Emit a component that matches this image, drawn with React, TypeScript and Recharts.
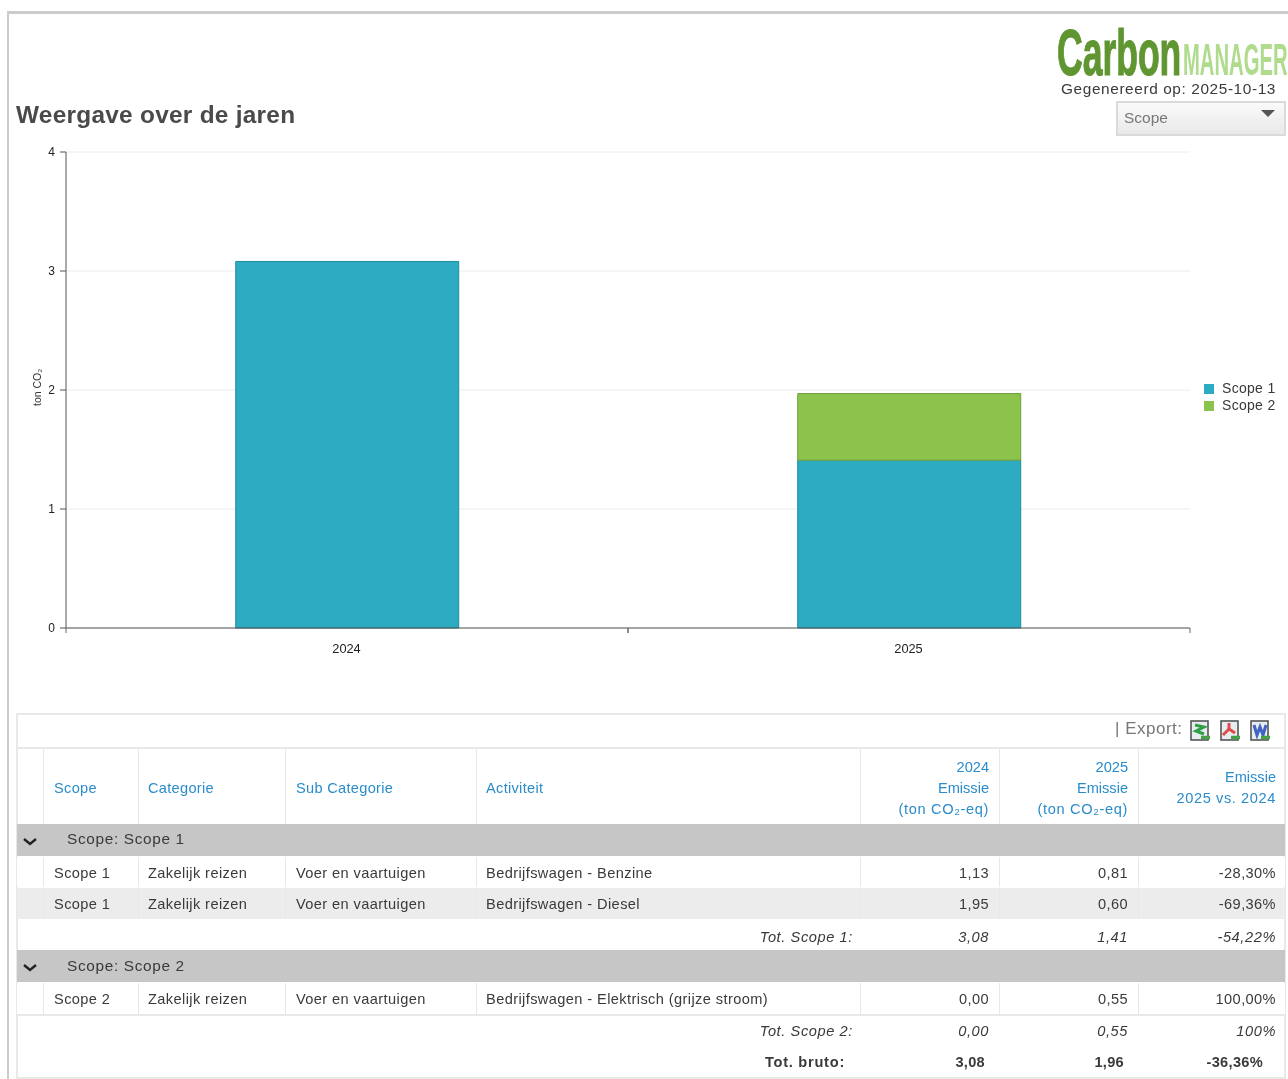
import React from "react";
import { BarChart, Bar, XAxis, YAxis, CartesianGrid, Legend } from "recharts";

const years = ["2024", "2025"];
const scope1 = [3.08, 1.41];
const scope2 = [0, 0.56];
const yTicks = [0, 1, 2, 3, 4];
const chartData = years.map((year, i) => ({ year, "Scope 1": scope1[i], "Scope 2": scope2[i] }));

const headers = ["Scope", "Categorie", "Sub Categorie", "Activiteit"];
const numHeaders = [["2024", "Emissie", "(ton CO₂-eq)"], ["2025", "Emissie", "(ton CO₂-eq)"], ["Emissie", "2025 vs. 2024"]];
const row1 = ["Scope 1", "Zakelijk reizen", "Voer en vaartuigen", "Bedrijfswagen - Benzine", "1,13", "0,81", "-28,30%"];
const row2 = ["Scope 1", "Zakelijk reizen", "Voer en vaartuigen", "Bedrijfswagen - Diesel", "1,95", "0,60", "-69,36%"];
const row3 = ["Scope 2", "Zakelijk reizen", "Voer en vaartuigen", "Bedrijfswagen - Elektrisch (grijze stroom)", "0,00", "0,55", "100,00%"];
const total1 = ["Tot. Scope 1:", "3,08", "1,41", "-54,22%"];
const total2 = ["Tot. Scope 2:", "0,00", "0,55", "100%"];
const totalAll = ["Tot. bruto:", "3,08", "1,96", "-36,36%"];

const FONT = "'Liberation Sans', Arial, sans-serif";
const TEXT = "#3a3a3a";
const LINK = "#2a8ccb";
const LINE = "#e8e8e8";
const seps = [42.5, 137.5, 284.5, 475.5, 859.5, 998.5, 1137.5];
const leftX = [54, 148, 296, 486];
const rightX = [989, 1128, 1276];

const T = ({ x, y, right, children, style }: any) => (
  <div
    style={{
      position: "absolute",
      top: y,
      ...(right !== undefined ? { right: 1288 - right } : { left: x }),
      whiteSpace: "nowrap",
      fontSize: 14.6,
      lineHeight: "18px",
      letterSpacing: 0.4,
      color: TEXT,
      ...style,
    }}
  >
    {children}
  </div>
);

const Box = ({ x, y, w, h, c, style }: any) => (
  <div style={{ position: "absolute", left: x, top: y, width: w, height: h, background: c, ...style }} />
);

const DataRow = ({ cells, y, h, bg }: any) => (
  <>
    <Box x={17} y={y} w={1268} h={h} c={bg} />
    {seps.map((s) => <Box key={s} x={s} y={y} w={1.5} h={h} c={LINE} />)}
    {cells.slice(0, 4).map((c: string, i: number) => <T key={i} x={leftX[i]} y={y + 7}>{c}</T>)}
    {cells.slice(4).map((c: string, i: number) => <T key={i} right={rightX[i]} y={y + 7}>{c}</T>)}
  </>
);

const TotalRow = ({ cells, y, bold }: any) => {
  const st = { fontStyle: bold ? "normal" : "italic", fontWeight: bold ? 700 : 400, letterSpacing: bold ? 0.3 : 0.6 };
  return (
    <>
      <T right={853 - (bold ? 8 : 0)} y={y} style={{ ...st, letterSpacing: bold ? 0.75 : 0.6 }}>{cells[0]}</T>
      {cells.slice(1).map((c: string, i: number) => (
        <T key={i} right={bold ? [985, 1124, 1263][i] : rightX[i]} y={y} style={st}>{c}</T>
      ))}
    </>
  );
};

const GroupRow = ({ label, y, h, ty }: any) => (
  <>
    <Box x={17} y={y} w={1268} h={h} c="#c6c6c6" />
    <svg style={{ position: "absolute", left: 22, top: y + 13 }} width="16" height="10">
      <path d="M2 2 L8 7 L14 2" fill="none" stroke="#222" strokeWidth="2.4" />
    </svg>
    <T x={67} y={y + ty} style={{ fontSize: 15.4, letterSpacing: 0.65 }}>{label}</T>
  </>
);

const ExportIcon = ({ x, c, d }: any) => (
  <svg style={{ position: "absolute", left: x, top: 720 }} width="22" height="22">
    <rect x="1" y="1" width="17" height="19" fill="#e6ecf0" stroke="#555" strokeWidth="1.6" />
    <path d={d} fill="none" stroke={c} strokeWidth="3" />
    <path d="M11 17.5 L20 17.5" stroke="#45a047" strokeWidth="3.5" />
  </svg>
);

const YearTick = ({ x, y, payload }: any) => {
  const half = payload.offset ?? 0;
  return (
    <g>
      <line x1={x - half} x2={x - half} y1={y - 8} y2={y - 3} stroke="#666" />
      <line x1={x + half} x2={x + half} y1={y - 8} y2={y - 3} stroke="#666" />
      <text x={x - 0.5} y={y + 17} textAnchor="middle" fontSize={12.8} fill="#222">{payload.value}</text>
    </g>
  );
};

export default function App() {
  return (
    <div style={{ position: "absolute", left: 0, top: 0, width: 1288, height: 1079, overflow: "hidden", background: "#fff", fontFamily: FONT, filter: "blur(0.4px)" }}>
      <Box x={8} y={11} w={1280} h={3} c="#cccccc" />
      <Box x={7} y={11} w={2} h={1068} c="#cccccc" />

      <svg style={{ position: "absolute", left: 1050, top: 20, overflow: "visible" }} width="238" height="62">
        <text transform="translate(7 55) scale(0.555 1)" fontFamily="'Liberation Sans'" fontWeight="700" fontSize="64" fill="#5f9632" stroke="#5f9632" strokeWidth="1.2">Carbon</text>
        <text transform="translate(133 55) scale(0.45 1)" fontFamily="'Liberation Sans'" fontWeight="700" fontSize="45" fill="#aedb8c">MANAGER</text>
      </svg>
      <T right={1276} y={80} style={{ fontSize: 15.4, letterSpacing: 0.6 }}>Gegenereerd op: 2025-10-13</T>

      <div style={{ position: "absolute", left: 1116, top: 101, width: 166, height: 31, border: "2px solid #dadada", background: "linear-gradient(#fafafa,#e9e9e9)" }} />
      <T x={1124} y={109} style={{ fontSize: 15.5, color: "#777", letterSpacing: 0 }}>Scope</T>
      <svg style={{ position: "absolute", left: 1260, top: 109 }} width="16" height="10"><path d="M1 1 H15 L8 8 Z" fill="#555" /></svg>

      <T x={16} y={100} style={{ fontSize: 24.4, lineHeight: "30px", fontWeight: 700, color: "#4a4a4a", letterSpacing: 0.27 }}>Weergave over de jaren</T>

      <div style={{ position: "absolute", left: 0, top: 0 }}>
        <BarChart
          width={1288}
          height={662}
          data={chartData}
          barCategoryGap="30.2%"
          margin={{ top: 152, right: 98, bottom: 4, left: 8 }}
          style={{ fontFamily: FONT }}
        >
          <CartesianGrid horizontal vertical={false} stroke="#ececec" strokeWidth={1} />
          <XAxis
            dataKey="year"
            stroke="#555"
            tickLine={false}
            height={30}
            tick={<YearTick />}
          />
          <YAxis
            domain={[0, 4]}
            ticks={yTicks}
            width={58}
            tickSize={6}
            tickMargin={5}
            stroke="#555"
            tick={{ fontSize: 12, fill: "#222" }}
            label={{ value: "ton CO₂", angle: -90, position: "insideLeft", offset: 29, dy: 16, fontSize: 10.5, fill: "#333" } as any}
          />
          <Legend
            layout="vertical"
            align="center"
            verticalAlign="middle"
            iconType="square"
            iconSize={10}
            wrapperStyle={{ position: "absolute", left: 1204, top: 379.5, width: 84, fontSize: 14, lineHeight: "17.5px" }}
            formatter={(v: string) => <span style={{ color: TEXT, marginLeft: 4, letterSpacing: 0.3 }}>{v}</span>}
          />
          <Bar dataKey="Scope 1" stackId="a" fill="#2dabc2" stroke="#1f8c9f" strokeWidth={1} isAnimationActive={false} />
          <Bar dataKey="Scope 2" stackId="a" fill="#8bc34d" stroke="#6f9f3c" strokeWidth={1} isAnimationActive={false} />
        </BarChart>
      </div>

      {/* table */}
      <div style={{ position: "absolute", left: 16, top: 713, width: 1266, height: 362, border: "2px solid " + LINE }} />
      <Box x={17} y={747} w={1268} h={1.5} c={LINE} />
      {seps.map((s) => <Box key={s} x={s} y={748} w={1.5} h={76} c={LINE} />)}
      <T x={1115} y={720} style={{ fontSize: 17, color: "#777", letterSpacing: 0.5 }}>| Export:</T>
      <ExportIcon x={1190} c="#2f9e44" d="M5 5 L14 7 L6 11 L14 14" />
      <ExportIcon x={1220} c="#e04a4a" d="M9 3 L9 9 L3 15 M9 9 L15 13" />
      <ExportIcon x={1250} c="#3f62c4" d="M4 5 L7 15 L10 7 L13 15 L16 5" />

      {headers.map((h, i) => <T key={h} x={leftX[i]} y={779} style={{ color: LINK, letterSpacing: 0.3 }}>{h}</T>)}
      {numHeaders[0].map((t, i) => <T key={i} right={rightX[0]} y={758 + i * 21} style={{ color: LINK, letterSpacing: i === 2 ? 0.65 : 0 }}>{t}</T>)}
      {numHeaders[1].map((t, i) => <T key={i} right={rightX[1]} y={758 + i * 21} style={{ color: LINK, letterSpacing: i === 2 ? 0.65 : 0 }}>{t}</T>)}
      {numHeaders[2].map((t, i) => <T key={i} right={rightX[2]} y={768 + i * 21} style={{ color: LINK, letterSpacing: i === 1 ? 0.6 : 0 }}>{t}</T>)}

      <GroupRow label="Scope: Scope 1" y={824} h={32} ty={6} />
      <DataRow cells={row1} y={857} h={30} bg="#fff" />
      <DataRow cells={row2} y={888} h={31} bg="#ececec" />
      <TotalRow cells={total1} y={928} />
      <GroupRow label="Scope: Scope 2" y={950} h={32} ty={7} />
      <DataRow cells={row3} y={983} h={31} bg="#fff" />
      <Box x={17} y={1014} w={1268} h={1.5} c={LINE} />
      <TotalRow cells={total2} y={1022} />
      <TotalRow cells={totalAll} y={1053} bold />
    </div>
  );
}
